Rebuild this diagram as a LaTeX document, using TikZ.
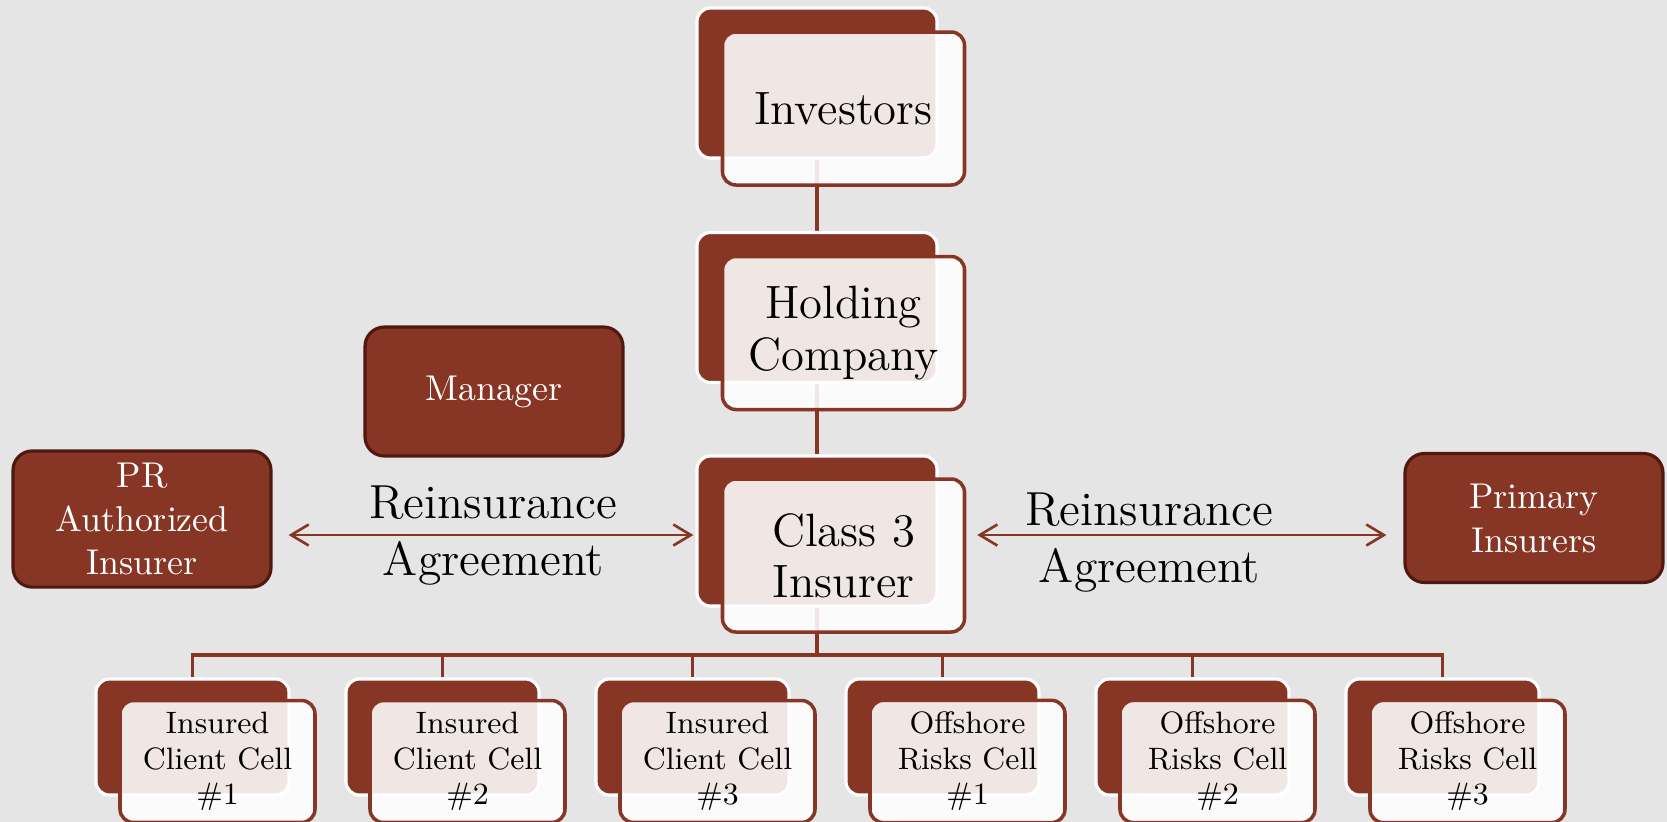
\documentclass[tikz,border=0pt]{standalone}
\usepackage{fontspec}
\usepackage{tikz}
\usetikzlibrary{arrows.meta,backgrounds}
\definecolor{rust}{rgb}{0.53, 0.21, 0.145}
\definecolor{rustdark}{rgb}{0.31, 0.10, 0.06}
\definecolor{paper}{rgb}{0.90, 0.90, 0.90}
\tikzset{
  backbox/.style={draw=white, line width=0.9pt, fill=rust, rounded corners=3.8pt,
    minimum width=2.40cm, minimum height=1.50cm},
  frontbox/.style={draw=rust, line width=1pt, fill=white, fill opacity=0.88, text opacity=1,
    rounded corners=3.8pt, minimum width=2.42cm, minimum height=1.53cm, align=center,
    font=\fontsize{13.3}{14.6}\selectfont},
  cellback/.style={backbox, minimum width=1.93cm, minimum height=1.16cm},
  cellfront/.style={frontbox, minimum width=1.95cm, minimum height=1.17cm,
    font=\fontsize{8.8}{10.1}\selectfont},
  redbox/.style={draw=rustdark, line width=0.9pt, fill=rust, text=white, rounded corners=5.5pt,
    minimum width=2.58cm, minimum height=1.29cm, align=center,
    font=\fontsize{10.2}{12.5}\selectfont},
  link/.style={draw=rust, line width=1.1pt},
  agree/.style={draw=rust, line width=0.75pt, <->, >={Straight Barb[length=5pt,width=6pt]}},
  agreetext/.style={align=center, anchor=base, font=\fontsize{13.6}{16.2}\selectfont}
}
\newcommand{\backCard}{\node[backbox]}
\newcommand{\frontCard}{\node[frontbox]}
\newcommand{\cellBack}{\node[cellback]}
\newcommand{\cellFront}{\node[cellfront]}
\newcommand{\redBox}{\node[redbox]}

\begin{document}
\begin{tikzpicture}[scale=1]
      \useasboundingbox (0,0) rectangle (16.67,-8.22);

      % The middle column: every card is a dark card with a light card
      % laid over it, a little lower and to the right
      \backCard (invB) at (8.17,-0.83) {};
      \frontCard (invF) at (8.435,-1.085) {Investors};

      \backCard (holdB) at (8.17,-3.075) {};
      \frontCard (holdF) at (8.435,-3.33) {Holding\\Company};

      \backCard (clsB) at (8.17,-5.31) {};
      \frontCard (clsF) at (8.435,-5.555) {Class 3\\Insurer};

      % Plain boxes on both sides
      \redBox (mgr) at (4.94,-3.915) {Manager};
      \redBox (prAuth) at (1.42,-5.19) {PR\\Authorized\\Insurer};
      \redBox (primIns) at (15.34,-5.18) {Primary\\Insurers};

      % The six cells under the insurer
      \cellBack (cellA) at (1.925,-7.37) {};
      \cellFront (cellAF) at (2.175,-7.615) {Insured\\Client Cell\\\#1};

      \cellBack (cellB) at (4.425,-7.37) {};
      \cellFront (cellBF) at (4.675,-7.615) {Insured\\Client Cell\\\#2};

      \cellBack (cellC) at (6.925,-7.37) {};
      \cellFront (cellCF) at (7.175,-7.615) {Insured\\Client Cell\\\#3};

      \cellBack (cellD) at (9.425,-7.37) {};
      \cellFront (cellDF) at (9.675,-7.615) {Offshore\\Risks Cell\\\#1};

      \cellBack (cellE) at (11.925,-7.37) {};
      \cellFront (cellEF) at (12.175,-7.615) {Offshore\\Risks Cell\\\#2};

      \cellBack (cellF) at (14.425,-7.37) {};
      \cellFront (cellFF) at (14.675,-7.615) {Offshore\\Risks Cell\\\#3};

      %Now the agreements (base is the lower line)
      \coordinate (agreeY) at (0,-5.35);
      \draw[agree, shorten <=0.16cm, shorten >=0.02cm] (prAuth.east |- agreeY) -- (clsB.west |- agreeY);
      \node[agreetext] (reinL) at (4.935,-5.75) {Reinsurance\\Agreement};

      \draw[agree, shorten <=0.11cm, shorten >=0.17cm] (clsF.east |- agreeY) -- (primIns.west |- agreeY);
      \node[agreetext] (reinR) at (11.495,-5.82) {Reinsurance\\Agreement};

      %% lines go under the cards
      \begin{scope}[on background layer]
        \fill[paper] (0,0) rectangle (16.67,-8.22);
        \draw[link] (invB.south) -- (holdB.north);
        \draw[link] (holdB.south) -- (clsB.north);
        \draw[link] (clsB.south) -- ++(0,-0.47) coordinate (bus);
        \draw[link] (bus) -| (cellA.north);
        \draw[link] (bus) -| (cellB.north);
        \draw[link] (bus) -| (cellC.north);
        \draw[link] (bus) -| (cellD.north);
        \draw[link] (bus) -| (cellE.north);
        \draw[link] (bus) -| (cellF.north);
      \end{scope}

\end{tikzpicture}
\end{document}
